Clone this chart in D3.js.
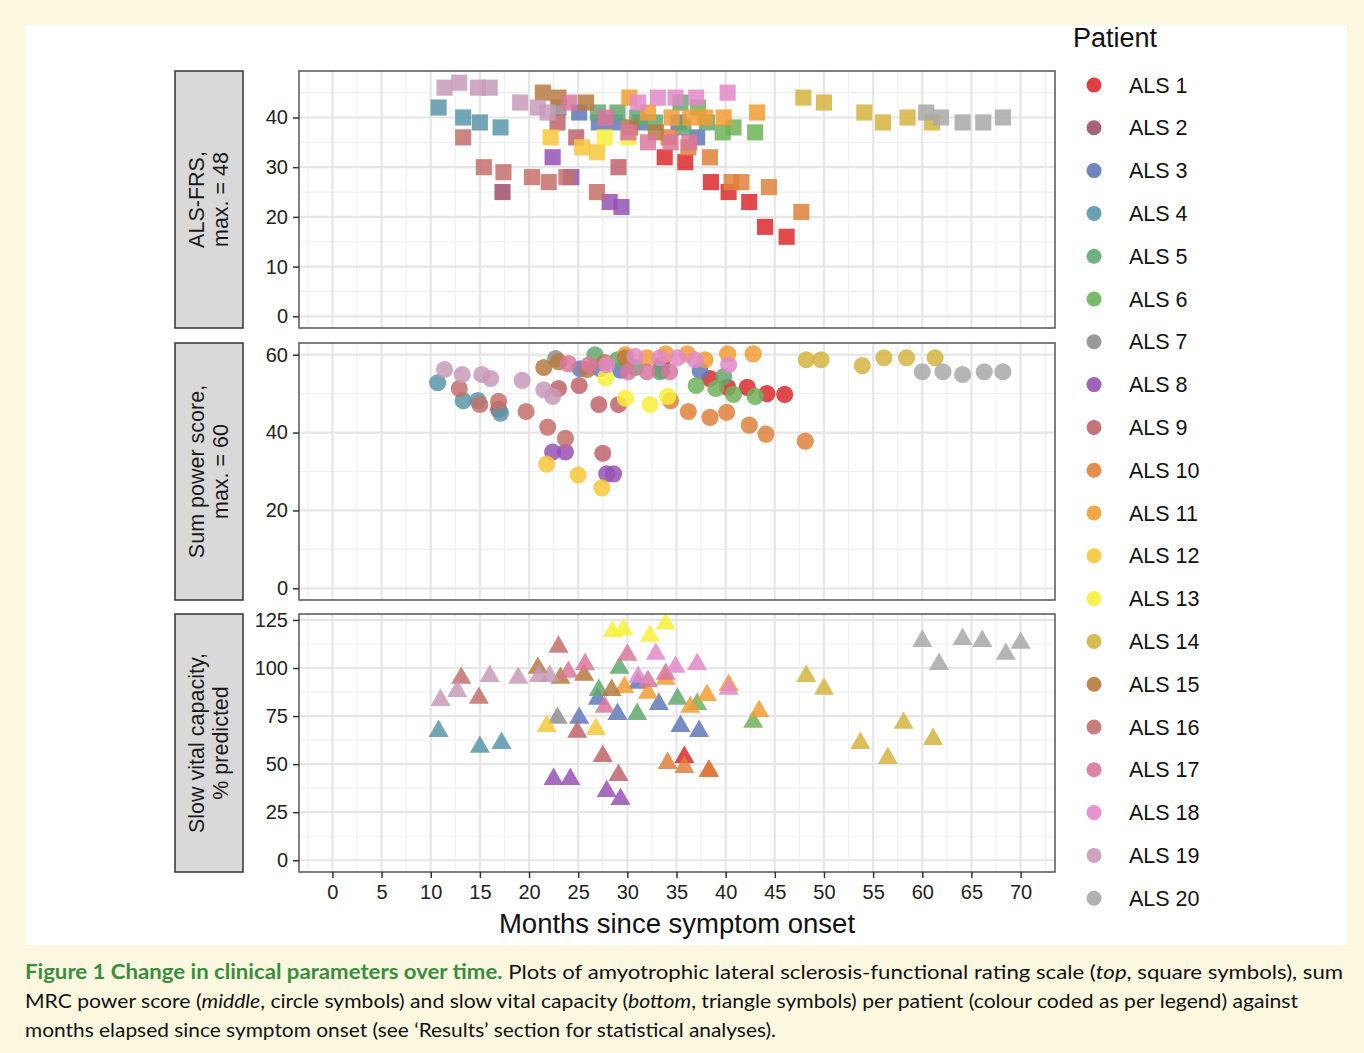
<!DOCTYPE html>
<html lang="en">
<head>
<meta charset="UTF-8">
<script src="https://d3js.org/d3.v7.min.js"></script>
<title>Clinical parameters over time</title>
<style>
  body { margin: 0; background: #fcf7df; }
  svg { display: block; }
</style>
</head>
<body>
<script>
// patients and their colours
var patients = d3.range(1, 21).map(function(i){ return 'ALS ' + i; });
var colours = ['#dc2a2e','#a0506a','#6079b8','#5b96a8','#62a870','#6db35a','#8e8e8e','#9552b5','#c0646b','#e0813c',
               '#f29c34','#f7c73a','#f8f03a','#d4b440','#b77a3e','#c3706a','#d9779c','#e288c8','#c89ab8','#a8a8a8'];

// [patient index, months, value]
var frs = [
  [0,33.8,32],[0,35.9,31],[0,38.5,27],[0,40.3,25],[0,42.4,23],[0,44,18],[0,46.2,16],
  [1,17.3,25],
  [2,25.1,41],[2,27.1,39],[2,28.7,39],[2,31.3,39],[2,35.2,39],[2,37.1,36],
  [3,10.8,42],[3,13.3,40],[3,15,39],[3,17.1,38],
  [4,27,41],[4,29,41],[4,31,40],[4,32.8,39],[4,35.4,43],[4,35.7,38],[4,38.1,39],
  [5,37.2,42],[5,39.7,37],[5,40.8,38],[5,43,37],
  [6,23,42],
  [7,22.4,32],[7,24.3,28],[7,28.2,23],[7,29.4,22],
  [8,22.9,39],[8,29.1,30],[8,24.8,36],
  [9,34.2,36],[9,36.2,34],[9,38.4,32],[9,40.6,27],[9,41.6,27],[9,44.4,26],[9,47.7,21],
  [10,30.2,44],[10,32.1,41],[10,34.5,40],[10,36.4,40],[10,37.9,40],[10,39.8,40],[10,43.2,41],
  [11,22.2,36],[11,25.4,34],[11,26.9,33],
  [12,27.7,36],[12,30.1,36],
  [13,47.9,44],[13,50,43],[13,54.1,41],[13,56,39],[13,58.5,40],[13,61,39],
  [14,21.4,45],[14,23,44],[14,25.8,43],[14,30.3,38],[14,32.9,37],
  [15,13.3,36],[15,15.4,30],[15,17.4,29],[15,20.3,28],[15,22,27],[15,23.8,28],[15,26.9,25],
  [16,24.1,43],[16,27.8,40],[16,30.1,37],[16,32.1,35],[16,34.4,35],[16,36.3,35],
  [17,31.1,43],[17,33.1,44],[17,34.9,44],[17,37,44],[17,40.2,45],
  [18,11.4,46],[18,12.9,47],[18,14.8,46],[18,16,46],[18,19.1,43],[18,20.9,42],[18,21.9,41],
  [19,60.4,41],[19,61.9,40],[19,64.1,39],[19,66.2,39],[19,68.2,40]
];

var mrc = [
  [0,33.5,57.5],[0,38.4,53.9],[0,40.2,51.6],[0,42.2,51.6],[0,44.2,50],[0,46,49.8],
  [1,16.9,46],
  [2,25.2,56.4],[2,27.2,56.4],[2,29.3,56],[2,33.5,56],[2,37.4,55.9],
  [3,10.7,52.8],[3,13.3,48.2],[3,14.8,48.2],[3,17.1,45],
  [4,26.7,60],[4,29,58.7],[4,30.8,56.7],[4,33.3,55.6],[4,39.8,54.4],
  [5,37,52.1],[5,39,51.3],[5,40.8,49.8],[5,43,49.3],
  [6,22.7,59],
  [7,22.4,35],[7,23.7,35],[7,27.9,29.4],[7,28.6,29.4],
  [8,23,51.3],[8,25.1,52.1],[8,27.1,47.2],[8,29.1,47.2],[8,27.5,34.7],
  [9,34.4,48.2],[9,36.2,45.4],[9,38.4,43.9],[9,40.1,45.2],[9,42.4,41.9],[9,44.1,39.6],[9,48.1,37.8],
  [10,29.8,60],[10,32,59.2],[10,33.9,60.2],[10,36.1,60.2],[10,37.9,58.7],[10,40.2,60.2],[10,42.8,60.2],
  [11,21.8,31.9],[11,25,29.1],[11,27.4,25.8],
  [12,27.8,54.1],[12,29.8,48.8],[12,32.3,47.2],[12,34.1,49.3],
  [13,48.2,58.7],[13,49.7,58.7],[13,53.9,57.2],[13,56.1,59.2],[13,58.4,59.2],[13,61.3,59.2],
  [14,21.5,56.7],[14,23,58.2],[14,25.9,56.2],[14,27.7,58],[14,29.8,59.2],
  [15,12.9,51.3],[15,15,47.2],[15,16.9,48],[15,19.7,45.4],[15,21.9,41.4],[15,23.7,38.5],
  [16,24,57.7],[16,26.1,57.4],[16,30.1,55.6],[16,32,55.6],[16,34.3,55.6],
  [17,27.9,57.4],[17,30.8,59.5],[17,33.3,59.2],[17,35.1,59.2],[17,36.9,58.7],[17,40.3,57.4],
  [18,11.4,56.2],[18,13.2,54.9],[18,15.2,54.9],[18,16.1,53.9],[18,19.3,53.4],[18,21.5,51],[18,22.4,49.3],
  [19,60,55.6],[19,62.1,55.6],[19,64.1,54.9],[19,66.3,55.6],[19,68.2,55.6]
];

var svc = [
  [0,35.8,53.6],[0,38.3,46.4],
  [2,25.1,74],[2,27,83.9],[2,29,76],[2,31.1,92.2],[2,33.2,81.2],[2,35.4,69.8],[2,37.3,67.2],
  [3,10.8,67.2],[3,15,58.9],[3,17.2,60.9],
  [4,27.1,88.5],[4,29.2,100],[4,31,76],[4,35.1,83.9],
  [5,37.1,81.2],[5,42.8,71.9],
  [6,22.9,74],
  [7,22.5,42.2],[7,24.2,42.2],[7,27.9,35.9],[7,29.3,31.8],
  [8,24.9,66.7],[8,27.5,54.2],[8,29.1,44.3],
  [9,34.1,50.5],[9,35.8,48.4],[9,38.3,46.4],
  [10,29.7,90],[10,32.1,87],[10,33.9,94.3],[10,36.4,79.7],[10,38.1,85.9],[10,40.3,91.1],[10,43.4,77.6],
  [11,21.8,69.8],[11,26.8,68.2],
  [12,28.5,119],[12,29.6,120],[12,32.3,116.7],[12,33.9,123],
  [13,48.2,95.8],[13,50,89.1],[13,53.7,60.9],[13,56.5,53.1],[13,58.1,71.4],[13,61.1,63],
  [14,20.9,100],[14,23.2,94.8],[14,25.6,96.4],[14,28.4,88.5],
  [15,13.1,94.8],[15,14.9,84.4],[15,23,111],
  [16,24,97.9],[16,25.7,102],[16,27.7,79.7],[16,30,106.8],[16,32.1,93.2],[16,33.9,96.9],
  [17,31.1,95.3],[17,32.9,107.3],[17,34.9,100.5],[17,37.1,102],[17,40.3,89.1],
  [18,11,83.3],[18,12.7,88],[18,16,95.8],[18,18.9,94.8],[18,21,95.8],[18,22.1,95.8],
  [19,60,114],[19,61.7,102],[19,64.1,115],[19,66.1,114],[19,68.5,107.3],[19,70,113]
];

var xTicks = d3.range(0, 75, 5);

var panels = [
  { data: frs, symbol: d3.symbolSquare, size: 260, domain: [-2.35, 49.35], top: 71, bottom: 328,
    major: [0,10,20,30,40], minor: [5,15,25,35,45], label: ['ALS-FRS,', 'max. = 48'] },
  { data: mrc, symbol: d3.symbolCircle, size: 230, domain: [-3, 63], top: 343, bottom: 600,
    major: [0,20,40,60], minor: [10,30,50], label: ['Sum power score,', 'max. = 60'] },
  { data: svc, symbol: d3.symbolTriangle, size: 175, domain: [-6.1, 128.1], top: 614, bottom: 872,
    major: [0,25,50,75,100,125], minor: [12.5,37.5,62.5,87.5,112.5], label: ['Slow vital capacity,', '% predicted'] }
];

var width = 1364, height = 1053;
var left = 299, right = 1055;

var svg = d3.select('body').append('svg')
    .attr('width', width)
    .attr('height', height)
    .style('font-family', 'Liberation Sans, Arial, sans-serif');

svg.append('rect').attr('x', 25).attr('y', 25).attr('width', 1322).attr('height', 920).attr('fill', '#fff');

var x = d3.scaleLinear().domain([-3.4, 73.5]).range([left, right]);
var xMinor = d3.range(-2.5, 75, 5);

panels.forEach(function(p, k) {
    var y = d3.scaleLinear().domain(p.domain).range([p.bottom, p.top]);
    var g = svg.append('g');

    // grid
    g.selectAll('.ymin').data(p.minor).enter().append('line')
        .attr('x1', left).attr('x2', right)
        .attr('y1', function(d){ return y(d); }).attr('y2', function(d){ return y(d); })
        .attr('stroke', '#f0f0f0').attr('stroke-width', 1.2);
    g.selectAll('.xmin').data(xMinor).enter().append('line')
        .attr('y1', p.top).attr('y2', p.bottom)
        .attr('x1', function(d){ return x(d); }).attr('x2', function(d){ return x(d); })
        .attr('stroke', '#f0f0f0').attr('stroke-width', 1.2);
    g.selectAll('.ymaj').data(p.major).enter().append('line')
        .attr('x1', left).attr('x2', right)
        .attr('y1', function(d){ return y(d); }).attr('y2', function(d){ return y(d); })
        .attr('stroke', '#e6e6e6').attr('stroke-width', 2.2);
    g.selectAll('.xmaj').data(xTicks).enter().append('line')
        .attr('y1', p.top).attr('y2', p.bottom)
        .attr('x1', function(d){ return x(d); }).attr('x2', function(d){ return x(d); })
        .attr('stroke', '#e6e6e6').attr('stroke-width', 2.2);

    // points
    g.selectAll('.pt').data(p.data).enter().append('path')
        .attr('d', d3.symbol().type(p.symbol).size(p.size))
        .attr('transform', function(d){ return 'translate(' + x(d[1]) + ',' + y(d[2]) + ')'; })
        .attr('fill', function(d){ return colours[d[0]]; })
        .attr('fill-opacity', 0.85);

    // border
    g.append('rect').attr('x', left).attr('y', p.top)
        .attr('width', right - left).attr('height', p.bottom - p.top)
        .attr('fill', 'none').attr('stroke', '#555').attr('stroke-width', 1.5);

    // y axis
    var yAxis = d3.axisLeft(y).tickValues(p.major).tickSize(6).tickPadding(5);
    var ya = g.append('g').attr('transform', 'translate(' + left + ',0)').call(yAxis);
    ya.select('.domain').remove();
    ya.selectAll('line').attr('stroke', '#333').attr('stroke-width', 1.5);
    ya.selectAll('text').attr('font-size', 20).attr('fill', '#222').style('font-family', 'Liberation Sans, Arial, sans-serif');

    // strip
    g.append('rect').attr('x', 175).attr('y', p.top).attr('width', 68).attr('height', p.bottom - p.top)
        .attr('fill', '#d9d9d9').attr('stroke', '#333').attr('stroke-width', 1.5);
    var cy = (p.top + p.bottom) / 2;
    var st = g.append('text').attr('transform', 'translate(209,' + cy + ') rotate(-90)')
        .attr('text-anchor', 'middle').attr('font-size', 21.5).attr('fill', '#1a1a1a');
    st.append('tspan').attr('x', 0).attr('y', -5).text(p.label[0]);
    st.append('tspan').attr('x', 0).attr('y', 19).text(p.label[1]);

    if (k === 2) {
        var xAxis = d3.axisBottom(x).tickValues(xTicks).tickSize(6).tickPadding(7);
        var xa = g.append('g').attr('transform', 'translate(0,' + p.bottom + ')').call(xAxis);
        xa.select('.domain').remove();
        xa.selectAll('line').attr('stroke', '#333').attr('stroke-width', 1.5);
        xa.selectAll('text').attr('font-size', 20).attr('fill', '#222').style('font-family', 'Liberation Sans, Arial, sans-serif');
    }
});

svg.append('text').attr('x', 677).attr('y', 933).attr('text-anchor', 'middle')
    .attr('font-size', 27.5).attr('fill', '#111').text('Months since symptom onset');

// legend
svg.append('text').attr('x', 1073).attr('y', 47).attr('font-size', 27).attr('fill', '#111').text('Patient');
var leg = svg.selectAll('.leg').data(patients).enter().append('g')
    .attr('transform', function(d, i){ return 'translate(1094,' + (85 + i * 42.8) + ')'; });
leg.append('circle').attr('r', 7.5).attr('fill', function(d, i){ return colours[i]; }).attr('fill-opacity', 0.9);
leg.append('text').attr('x', 35).attr('y', 7.5).attr('font-size', 21.5).attr('fill', '#111').text(function(d){ return d; });

// caption
var cap = svg.append('g').style('font-family', 'Lato, sans-serif').attr('font-size', 20).attr('fill', '#111');
var l1 = cap.append('text').attr('x', 25).attr('y', 979).attr('textLength', 1318).attr('lengthAdjust', 'spacingAndGlyphs');
l1.append('tspan').attr('fill', '#3a8c3f').attr('font-weight', 'bold').text('Figure 1 Change in clinical parameters over time.');
l1.append('tspan').text(' Plots of amyotrophic lateral sclerosis-functional rating scale (');
l1.append('tspan').attr('font-style', 'italic').text('top');
l1.append('tspan').text(', square symbols), sum');
var l2 = cap.append('text').attr('x', 25).attr('y', 1008).attr('textLength', 1273).attr('lengthAdjust', 'spacingAndGlyphs');
l2.append('tspan').text('MRC power score (');
l2.append('tspan').attr('font-style', 'italic').text('middle');
l2.append('tspan').text(', circle symbols) and slow vital capacity (');
l2.append('tspan').attr('font-style', 'italic').text('bottom');
l2.append('tspan').text(', triangle symbols) per patient (colour coded as per legend) against');
cap.append('text').attr('x', 25).attr('y', 1037).attr('textLength', 751).attr('lengthAdjust', 'spacingAndGlyphs')
    .text('months elapsed since symptom onset (see \u2018Results\u2019 section for statistical analyses).');
</script>
</body>
</html>
